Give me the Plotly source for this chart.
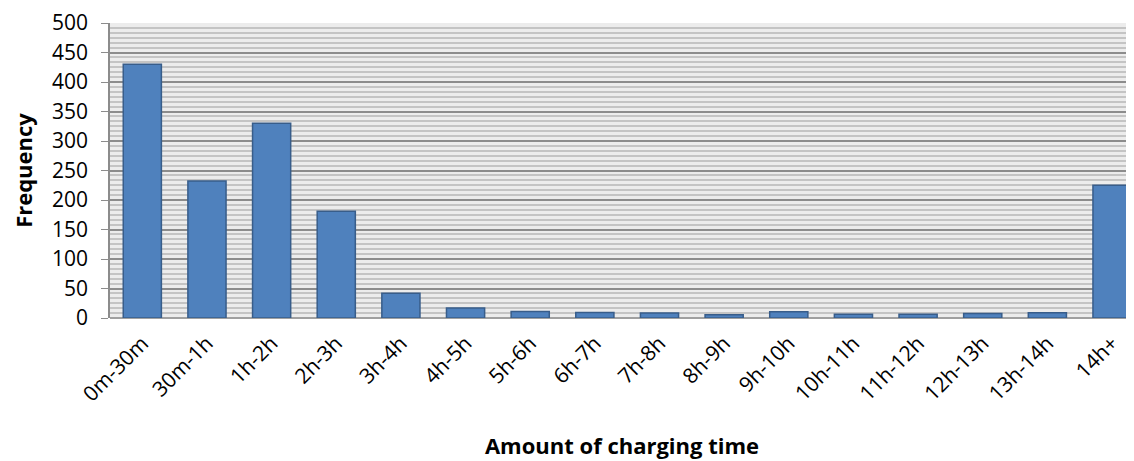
import plotly.graph_objects as go

categories = ["0m-30m", "30m-1h", "1h-2h", "2h-3h", "3h-4h", "4h-5h", "5h-6h", "6h-7h",
              "7h-8h", "8h-9h", "9h-10h", "10h-11h", "11h-12h", "12h-13h", "13h-14h", "14h+"]
frequency = [430, 232, 330, 181, 42, 17, 11, 9.5, 8.5, 5.5, 10.5, 6.5, 6.5, 7.5, 9, 225]

fig = go.Figure(go.Bar(
    x=categories, y=frequency,
    marker=dict(color="#4f81bd", line=dict(color="#385d8a", width=1.5)),
    width=0.59,
))

font_family = "Open Sans, Liberation Sans, sans-serif"
fig.update_layout(
    width=1126, height=453,
    margin=dict(l=102, r=0, t=10, b=143),
    paper_bgcolor="white",
    plot_bgcolor="#ececec",
    showlegend=False,
    font=dict(family=font_family, color="black"),
)
fig.update_xaxes(
    range=[-0.5, 15.34],
    tickangle=-45,
    tickfont=dict(size=21),
    ticklabelstandoff=8,
    showgrid=False,
    showline=False,
    ticks="",
    title=dict(text="<b>Amount of charging time</b>", font=dict(size=22), standoff=32),
)
fig.update_yaxes(
    range=[0, 500],
    dtick=50,
    tickfont=dict(size=21),
    ticklabelstandoff=9,
    ticklabeloverflow="allow",
    showgrid=True, gridcolor="#8c8c8c", gridwidth=1.5,
    minor=dict(dtick=50/6, showgrid=True, gridcolor="#c4c4c4", gridwidth=2),
    showline=True, linecolor="#8c8c8c", linewidth=1.5,
    ticks="outside", ticklen=7, tickcolor="#8c8c8c",
    zeroline=True, zerolinecolor="#a0a0a0", zerolinewidth=2,
    title=dict(text="<b>Frequency</b>", font=dict(size=22), standoff=14),
)

fig.write_html("out.html")
